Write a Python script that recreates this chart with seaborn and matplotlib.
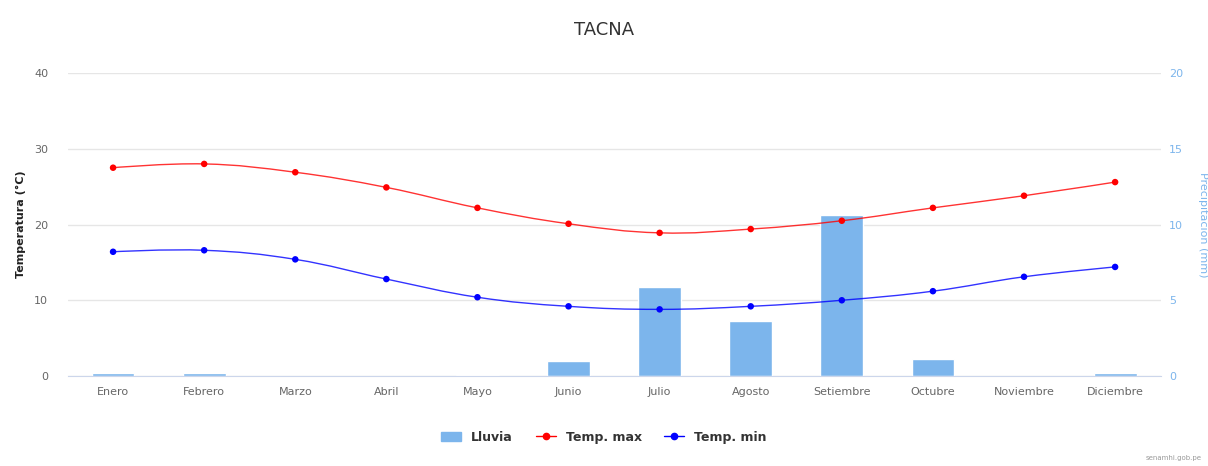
import seaborn as sns
import numpy as np
import pandas as pd
import matplotlib.pyplot as plt
from matplotlib.path import Path
from matplotlib.patches import PathPatch, Patch
from matplotlib.lines import Line2D

meses = ['Enero', 'Febrero', 'Marzo', 'Abril', 'Mayo', 'Junio', 'Julio',
         'Agosto', 'Setiembre', 'Octubre', 'Noviembre', 'Diciembre']
lluvia = [0.2, 0.2, 0.0, 0.0, 0.1, 1.0, 5.9, 3.6, 10.6, 1.1, 0.0, 0.2]
temp_max = [27.5, 28.0, 26.9, 24.9, 22.2, 20.1, 18.9, 19.4, 20.5, 22.2, 23.8, 25.6]
temp_min = [16.4, 16.6, 15.4, 12.8, 10.4, 9.2, 8.8, 9.2, 10.0, 11.2, 13.1, 14.4]

sns.set_style('white')
plt.rcParams['font.family'] = ['DejaVu Sans']

fig = plt.figure(figsize=(12.08, 4.66), dpi=100)
box = [0.0559, 0.1931, 0.9049, 0.6502]
ax2 = fig.add_axes(box)  # lluvia, eje derecho
ax = fig.add_axes(box, sharex=ax2)  # temperaturas, eje izquierdo
ax.patch.set_alpha(0)

df = pd.DataFrame({'mes': meses, 'lluvia': lluvia})
sns.barplot(data=df, x='mes', y='lluvia', ax=ax2, color='#7cb5ec',
            saturation=1, width=0.47)
ax2.yaxis.tick_right()
ax2.yaxis.set_label_position('right')
ax2.set_ylim(0, 20)
ax2.set_yticks([0, 5, 10, 15, 20])
ax2.set_xlim(-0.5, 11.5)
ax2.tick_params(axis='y', colors='#7cb5ec', labelsize=8, length=0, pad=6)
ax2.tick_params(axis='x', colors='#666666', labelsize=8, length=0, pad=8)
ax2.set_xlabel('')
ax2.set_ylabel('Precipitación (mm)', color='#7cb5ec', fontsize=8,
               rotation=270, va='center')
ax2.yaxis.set_label_coords(1.039, 0.5)
for v in [0, 5, 10, 15, 20]:
    ax2.axhline(v, color='#e6e6e6', lw=1, zorder=0)


def spline(ax, xs, ys, color):
    # curva suave que pasa por los puntos
    xs = np.asarray(xs, float)
    ys = np.asarray(ys, float)
    verts = [(xs[0], ys[0])]
    codes = [Path.MOVETO]
    s = 1.5
    n = len(xs)
    for i in range(1, n):
        if i - 1 == 0:
            c1 = (xs[0], ys[0])
        else:
            x_r = (s * xs[i - 1] + xs[i]) / (s + 1)
            y_r = (s * ys[i - 1] + ys[i]) / (s + 1)
            x_l = (s * xs[i - 1] + xs[i - 2]) / (s + 1)
            y_l = (s * ys[i - 1] + ys[i - 2]) / (s + 1)
            slope = (y_r - y_l) / (x_r - x_l)
            c1 = (x_r, ys[i - 1] + slope * (x_r - xs[i - 1]))
        if i == n - 1:
            c2 = (xs[i], ys[i])
        else:
            x_l = (s * xs[i] + xs[i - 1]) / (s + 1)
            y_l = (s * ys[i] + ys[i - 1]) / (s + 1)
            x_r = (s * xs[i] + xs[i + 1]) / (s + 1)
            y_r = (s * ys[i] + ys[i + 1]) / (s + 1)
            slope = (y_r - y_l) / (x_r - x_l)
            c2 = (x_l, ys[i] + slope * (x_l - xs[i]))
        verts += [c1, c2, (xs[i], ys[i])]
        codes += [Path.CURVE4] * 3
    ax.add_patch(PathPatch(Path(verts, codes), fill=False, edgecolor=color,
                           lw=1, alpha=0.8, zorder=3))


xpos = np.arange(len(meses))
spline(ax, xpos, temp_max, '#ff0000')
spline(ax, xpos, temp_min, '#0000ff')
sns.scatterplot(x=xpos, y=temp_max, ax=ax, color='#ff0000', s=22,
                edgecolor='none', zorder=4)
sns.scatterplot(x=xpos, y=temp_min, ax=ax, color='#0000ff', s=22,
                edgecolor='none', zorder=4)
ax.set_ylim(0, 40)
ax.set_yticks([0, 10, 20, 30, 40])
ax.set_xlim(-0.5, 11.5)
ax.tick_params(axis='y', colors='#666666', labelsize=8, length=0, pad=14)
ax.tick_params(axis='x', labelbottom=False, length=0)
ax.set_ylabel('Temperatura (°C)', color='#222222', fontsize=8,
              fontweight='bold', va='center')
ax.yaxis.set_label_coords(-0.043, 0.5)
ax.set_xlabel('')
for a in (ax, ax2):
    for sp in a.spines.values():
        sp.set_visible(False)
ax2.spines['bottom'].set_visible(True)
ax2.spines['bottom'].set_color('#ccd6eb')

fig.suptitle('TACNA', x=0.5, y=0.955, fontsize=13, color='#333333')

handles = [Patch(color='#7cb5ec', label='Lluvia'),
           Line2D([], [], color='#ff0000', marker='o', markersize=4.5,
                  lw=1, label='Temp. max'),
           Line2D([], [], color='#0000ff', marker='o', markersize=4.5,
                  lw=1, label='Temp. min')]
leg = fig.legend(handles=handles, loc='center', bbox_to_anchor=(0.5, 0.062),
                 ncol=3, frameon=False, handlelength=1.6,
                 columnspacing=1.8, prop={'weight': 'bold', 'size': 9})
for t in leg.get_texts():
    t.set_color('#333333')

fig.text(0.995, 0.01, 'senamhi.gob.pe', ha='right', va='bottom',
         fontsize=5, color='#999999')

fig.savefig('out.png', dpi=100)
